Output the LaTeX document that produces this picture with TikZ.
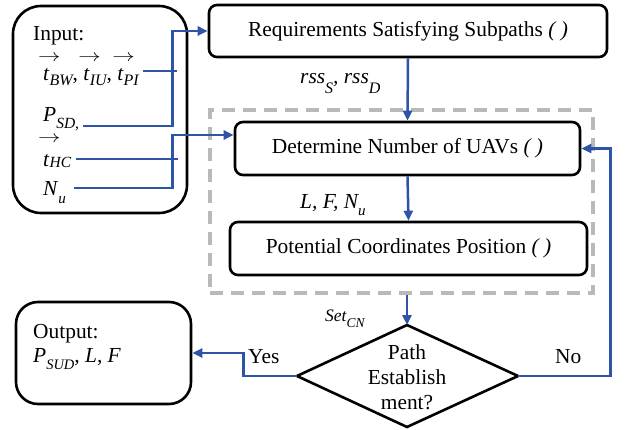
\documentclass[tikz,border=0pt]{standalone}
\usepackage{fontspec}
\setmainfont{Liberation Serif}
\usetikzlibrary{arrows.meta,calc}

\definecolor{flowblue}{RGB}{46,84,168}
\definecolor{groupgray}{RGB}{185,185,185}

% lowered italic subscript: [drop]{size}{text}
\newcommand{\sbs}[3][6pt]{\raisebox{-#1}{\fontsize{#2}{#2}\selectfont\itshape #3}}
% vector t with a long arrow above it: [arrow height]
\newcommand{\vect}[1][19pt]{\makebox[0pt][l]{\hspace{-5pt}\smash{\raisebox{#1}{\scalebox{1.3}[1]{\fontsize{18}{18}\selectfont$\rightarrow$}}}}\textit{t}}

\tikzset{
  proc/.style={draw=black, line width=2.6pt, rounded corners=8pt, minimum height=53pt,
               inner sep=0pt, font=\fontsize{21.4}{25}\selectfont},
  iobox/.style={draw=black, line width=2.6pt, rounded corners=28pt},
  txt/.style={anchor=base west, inner sep=0pt, font=\fontsize{21.4}{25}\selectfont},
  lbl/.style={anchor=base west, inner sep=0pt, font=\fontsize{21.4}{25}\selectfont\itshape},
  flow/.style={draw=flowblue, line width=2.5pt, -{Triangle[length=10pt,width=9pt]}},
  feed/.style={draw=flowblue, line width=2.5pt},
  grouping/.style={draw=groupgray, line width=3.5pt, dash pattern=on 13pt off 8pt,
                   minimum width=383pt, minimum height=183pt, inner sep=0pt}
}

\begin{document}
\begin{tikzpicture}[x=1pt,y=-1pt]
\useasboundingbox (0,0) rectangle (628,430);

% input and output frames
\draw[iobox] (13,6) rectangle (187,213);
\node[iobox, rounded corners=22pt, minimum width=175pt, minimum height=102pt, inner sep=0pt]
  (outbox) at (103.5,353) {};

% input parameters
\node[txt] (inhead) at (33,41) {Input:};
\node[txt] (tbw) at (43,81) {\vect\sbs[5pt]{16}{BW}, \vect\sbs[5pt]{16}{IU}, \vect\sbs[5pt]{16}{PI}};
\node[txt] (psd) at (43,122) {\textit{P}\sbs[7pt]{15.5}{SD,}};
\node[txt] (thc) at (43,167) {\vect[24pt]\sbs[1pt]{15.5}{HC}};
\node[txt] (nu) at (43,196) {\textit{N}\sbs[8pt]{15}{u}};

% output parameters
\node[txt] (outhead) at (33,338) {Output:};
\node[txt] (outvals) at (33,362) {\textit{P}\sbs[7pt]{14.5}{SUD}\textit{, L, F}};

% process boxes
\node[proc, minimum width=398pt, minimum height=52pt] (req) at (408,31)
  {Requirements Satisfying Subpaths \textit{( )}};
\node[grouping] (grp) at (401.5,201.5) {};
\node[proc, minimum width=345pt] (det) at (407.5,148.5)
  {Determine Number of UAVs \textit{( )}};
\node[proc, minimum width=357pt] (pot) at (408.5,248.5)
  {Potential Coordinates Position \textit{( )}};

% decision diamond
\coordinate (dtop) at (407,325);
\coordinate (dright) at (518,376);
\coordinate (dbottom) at (407,427);
\coordinate (dleft) at (297,376);
\draw[line width=2.6pt, line join=miter] (dtop) -- (dright) -- (dbottom) -- (dleft) -- cycle;
\node[align=center, inner sep=0pt, font=\fontsize{21.4}{25}\selectfont] (dec) at (407,377)
  {Path\\Establish\\ment?};

% edge labels
\node[lbl] (rss) at (300,84) {rss\sbs[10pt]{16}{S}, rss\sbs[10pt]{16}{D}};
\node[lbl] (lfn) at (300,208) {L, F, N\sbs[7pt]{15}{u}};
\node[lbl, font=\fontsize{17.5}{20}\selectfont\itshape] (setcn) at (325,321) {Set\sbs[6pt]{13.5}{CN}};
\node[txt] (yes) at (248,363) {Yes};
\node[txt] (no) at (555,363) {No};

% junctions of the input feeds
\coordinate (j1) at ([xshift=-35pt]req.west);
\coordinate (j2) at ([xshift=-61pt,yshift=13.5pt]det.west);

% input feeds
\draw[feed] ([xshift=4pt,yshift=10pt]tbw.base east) -- ([xshift=4pt,yshift=10pt]tbw.base east -| j1);
\draw[flow] ([xshift=4pt,yshift=-4pt]psd.base east) -| (j1) -- (req.west);
\draw[feed] ([xshift=5pt,yshift=8pt]thc.base east) -- ([xshift=5pt,yshift=8pt]thc.base east -| j2);
\draw[flow] ([xshift=8pt,yshift=8pt]nu.base east) -| (j2) -- (j2 -| det.west);

% main flow
\draw[flow] (req.south) -- (det.north);
\draw[flow] (det.south) -- (pot.north);
\draw[flow] (grp.south -| dtop) -- (dtop);
\draw[flow] (dleft) -| ([xshift=51pt]outbox.east) -- (outbox.east);
\draw[flow] (dright) -| ([xshift=29pt]det.east) -- (det.east);
\end{tikzpicture}
\end{document}
